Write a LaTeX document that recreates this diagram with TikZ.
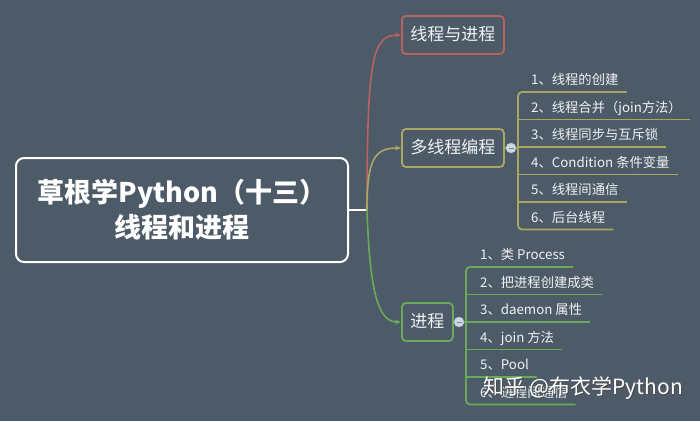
\documentclass[tikz,border=0pt]{standalone}
\usepackage{fontspec}
\setmainfont{Noto Sans CJK SC}
\usetikzlibrary{arrows.meta, positioning, calc}
\definecolor{bgSlate}{RGB}{77,90,103}
\definecolor{threadRed}{RGB}{185,98,94}
\definecolor{multiOlive}{RGB}{170,168,96}
\definecolor{procGreen}{RGB}{104,170,90}
\definecolor{dotGrey}{RGB}{205,215,228}
\definecolor{textWhite}{RGB}{240,242,244}
\tikzset{
  topicBox/.style={draw, line width=1.8pt, rounded corners=4pt, fill=bgSlate,
    text=textWhite, font=\fontsize{17}{20}\selectfont, inner xsep=8.5pt,
    minimum height=38pt, text height=13pt, text depth=3pt},
  itemText/.style={anchor=south west, inner xsep=8pt, inner ysep=0pt,
    text=textWhite, font=\fontsize{13.3}{15}\selectfont, text height=10pt, text depth=7pt},
  branchLine/.style={line width=1.6pt, -{Stealth[length=6pt,width=5pt]}},
  multiLine/.style={multiOlive, line width=1.8pt},
  procLine/.style={procGreen, line width=1.8pt},
  foldDot/.style={circle, draw=dotGrey!70!gray, fill=dotGrey, minimum size=10pt, inner sep=0pt,
    path picture={\draw[gray, line width=0.8pt] ([xshift=-2.5pt]path picture bounding box.center) -- ++(5pt,0);}}
}
\begin{document}
\begin{tikzpicture}[x=1pt,y=-1pt]
  % background
  \fill[bgSlate] (0,0) rectangle (700,421);
  \useasboundingbox (0,0) rectangle (700,421);
  % central topic
  \node[draw=white, line width=2pt, rounded corners=8pt, fill=bgSlate, text=white,
    minimum width=332pt, minimum height=104pt, align=center,
    font=\bfseries\fontsize{27}{35}\selectfont] (root) at (182,210)
    {草根学Python（十三）\\线程和进程};
  \coordinate (hub) at (367,210);
  \draw[white, line width=1.8pt] (root.east) -- (hub);
  % main topics
  \node[topicBox, draw=threadRed, anchor=west] (thread) at (401,35) {线程与进程};
  \node[topicBox, draw=multiOlive, anchor=west] (multi) at (401,148) {多线程编程};
  \node[topicBox, draw=procGreen, anchor=west] (proc) at (401,322) {进程};
  \draw[branchLine, threadRed] (hub) .. controls (367,60) and (372,35) .. (thread.west);
  \draw[branchLine, multiOlive] (hub) .. controls (367,160) and (374,148) .. (multi.west);
  \draw[branchLine, procGreen] (hub) .. controls (370,300) and (380,322) .. (proc.west);
  % subtopics of multi
  \coordinate (mBar) at (518,148);
  \foreach \i/\txt in {1/{1、线程的创建}, 2/{2、线程合并（join方法）}, 3/{3、线程同步与互斥锁},
      4/{4、Condition 条件变量}, 5/{5、线程间通信}, 6/{6、后台线程}}{
    \node[itemText] (m\i) at (523,{64.5+27.5*\i}) {\txt};
  }
  \draw[multiLine] (multi.east) -- (mBar);
  \draw[multiLine, rounded corners=4pt] (m1.south east) -- (mBar |- m1.south)
    -- (mBar |- m6.south) -- (m6.south east);
  \foreach \i in {2,...,5}{
    \draw[multiLine] (mBar |- m\i.south) -- (m\i.south east);
  }
  \node[foldDot] (mDot) at (511,148) {};
  % subtopics of proc
  \coordinate (pBar) at (466,322);
  \foreach \i/\txt in {1/{1、类 Process}, 2/{2、把进程创建成类}, 3/{3、daemon 属性},
      4/{4、join 方法}, 5/{5、Pool}, 6/{6、进程间通信}}{
    \node[itemText] (p\i) at (472,{239.5+27.5*\i}) {\txt};
  }
  \draw[procLine] (proc.east) -- (pBar);
  \draw[procLine, rounded corners=4pt] (p1.south east) -- (pBar |- p1.south)
    -- (pBar |- p6.south) -- (p6.south east);
  \foreach \i in {2,...,5}{
    \draw[procLine] (pBar |- p\i.south) -- (p\i.south east);
  }
  \node[foldDot] (pDot) at (459,322) {};
  % watermark
  \node[text=black!70, font=\fontsize{21}{24}\selectfont] (markShadow) at (584,389) {知乎 @布衣学Python};
  \node[text=white, font=\fontsize{21}{24}\selectfont] (mark) at (583,388) {知乎 @布衣学Python};
\end{tikzpicture}
\end{document}
